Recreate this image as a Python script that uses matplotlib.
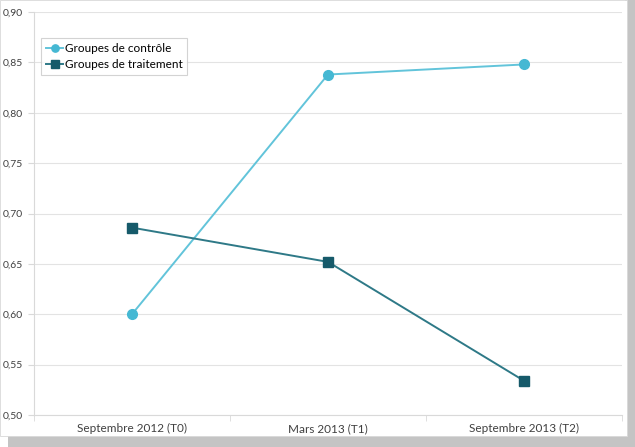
import matplotlib
matplotlib.use("Agg")
import matplotlib.pyplot as plt
from matplotlib.patches import Rectangle

plt.rcParams['font.family'] = ['Lato', 'DejaVu Sans']

categories = ['Septembre 2012 (T0)', 'Mars 2013 (T1)', 'Septembre 2013 (T2)']
controle = [0.600, 0.838, 0.848]
traitement = [0.686, 0.652, 0.534]
yticks = [0.50, 0.55, 0.60, 0.65, 0.70, 0.75, 0.80, 0.85, 0.90]

fig = plt.figure(figsize=(6.35, 4.47), dpi=100)

# drop shadow around the chart frame
fig.patches.append(Rectangle((0.012, 0.0), 0.988, 0.03, transform=fig.transFigure,
                             facecolor='#c4c4c4', edgecolor='none', zorder=0))
fig.patches.append(Rectangle((0.985, 0.0), 0.015, 1.0, transform=fig.transFigure,
                             facecolor='#c4c4c4', edgecolor='none', zorder=0))
fig.patches.append(Rectangle((0.0, 0.025), 0.988, 0.975, transform=fig.transFigure,
                             facecolor='white', edgecolor='#d8d8d8', lw=0.6, zorder=1))

ax = fig.add_axes([0.0535, 0.0716, 0.926, 0.9014])
ax.set_zorder(2)
ax.patch.set_alpha(0)

x = list(range(len(categories)))
ax.plot(x, controle, color='#62c4da', lw=1.4, marker='o', markersize=7,
        markerfacecolor='#45b8d3', markeredgecolor='#45b8d3', label='Groupes de contrôle')
ax.plot(x, traitement, color='#2e7987', lw=1.4, marker='s', markersize=7,
        markerfacecolor='#165a6a', markeredgecolor='#165a6a', label='Groupes de traitement')

ax.set_xlim(-0.5, 2.5)
ax.set_ylim(0.50, 0.90)
ax.set_yticks(yticks)
ax.set_yticklabels([f'{v:.2f}'.replace('.', ',') for v in yticks])
ax.set_xticks(x)
ax.set_xticklabels(categories)
ax.set_xticks([-0.5, 0.5, 1.5, 2.5], minor=True)
ax.tick_params(axis='x', which='major', length=0, labelsize=8.5, colors='#404040', pad=6)
ax.tick_params(axis='x', which='minor', length=4, color='#d9d9d9')
ax.tick_params(axis='y', length=4, color='#d9d9d9', labelsize=7.5, labelcolor='#404040', pad=4)
ax.grid(axis='y', color='#e3e3e3', lw=0.8)
ax.set_axisbelow(True)
for s in ['top', 'right']:
    ax.spines[s].set_visible(False)
ax.spines['left'].set_color('#d9d9d9')
ax.spines['bottom'].set_color('#d9d9d9')

leg = ax.legend(loc='upper left', bbox_to_anchor=(0.012, 0.935), fontsize=8.5,
                frameon=True, fancybox=False, handlelength=1.5, handletextpad=0.1,
                borderpad=0.4, labelspacing=0.45, borderaxespad=0, markerscale=0.75)
leg.get_frame().set_edgecolor('#c8c8c8')
leg.get_frame().set_linewidth(0.8)

fig.savefig('out.png', dpi=100)
